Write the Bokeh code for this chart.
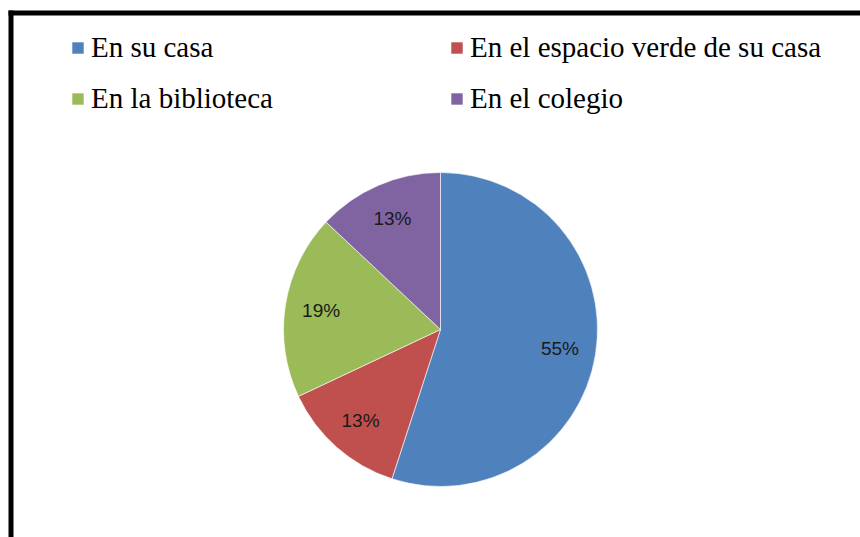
import math
from bokeh.plotting import figure
from bokeh.models import ColumnDataSource, Legend, LegendItem, BoxAnnotation
from bokeh.core.properties import value
from bokeh.embed import file_html
from bokeh.resources import INLINE

categories = ["En su casa", "En el espacio verde de su casa", "En la biblioteca", "En el colegio"]
values = [55, 13, 19, 13]
labels = ["55%", "13%", "19%", "13%"]
colors = ["#4F81BD", "#C0504D", "#9BBB59", "#8064A2"]

W, H = 860, 537
CX, CY, R = 440, 208, 157
LABEL_R = 0.77 * R

total = sum(values)
starts, ends, lx, ly = [], [], [], []
cum = 0.0
for v in values:
    c0 = cum / total
    cum += v
    c1 = cum / total
    # clockwise from 12 o'clock
    starts.append(math.pi / 2 - 2 * math.pi * c1)
    ends.append(math.pi / 2 - 2 * math.pi * c0)
    mid = math.pi / 2 - 2 * math.pi * (c0 + c1) / 2
    lx.append(CX + LABEL_R * math.cos(mid))
    ly.append(CY + LABEL_R * math.sin(mid))

src = ColumnDataSource(dict(cat=categories, val=values, start=starts, end=ends,
                            color=colors, lx=lx, ly=ly, lab=labels))

p = figure(width=W, height=H, x_range=(0, W), y_range=(0, H),
           x_axis_type=None, y_axis_type=None, toolbar_location=None,
           output_backend="svg", min_border=0, outline_line_color=None,
           background_fill_color="white", border_fill_color="white")
p.grid.visible = False

renderers = []
for i in range(len(values)):
    r = p.wedge(x=CX, y=CY, radius=R, start_angle=starts[i], end_angle=ends[i],
                fill_color=colors[i], line_color="white", line_width=1, line_alpha=0.6)
    renderers.append(r)

p.text(x="lx", y="ly", text="lab", source=src, text_align="center",
       text_baseline="middle", text_font=value("Liberation Sans"),
       text_font_size="19px", text_color="#1a1a1a")

legend = Legend(items=[LegendItem(label=categories[i], renderers=[renderers[i]]) for i in range(4)],
                orientation="horizontal", ncols=2,
                location=(70, 422), padding=0, margin=0, spacing=18,
                glyph_width=15, glyph_height=15, label_standoff=6, label_width=340,
                label_height=30,
                label_text_font="Liberation Serif", label_text_font_size="29px",
                label_text_color="black",
                border_line_color=None, background_fill_alpha=0)
p.add_layout(legend)

# frame border (top and left edges)
p.add_layout(BoxAnnotation(left=8, right=W, bottom=H - 15, top=H - 10,
                           fill_color="black", fill_alpha=1, line_color=None))
p.add_layout(BoxAnnotation(left=8, right=13, bottom=0, top=H - 10,
                           fill_color="black", fill_alpha=1, line_color=None))

open("out.html", "w").write(file_html(p, INLINE))
